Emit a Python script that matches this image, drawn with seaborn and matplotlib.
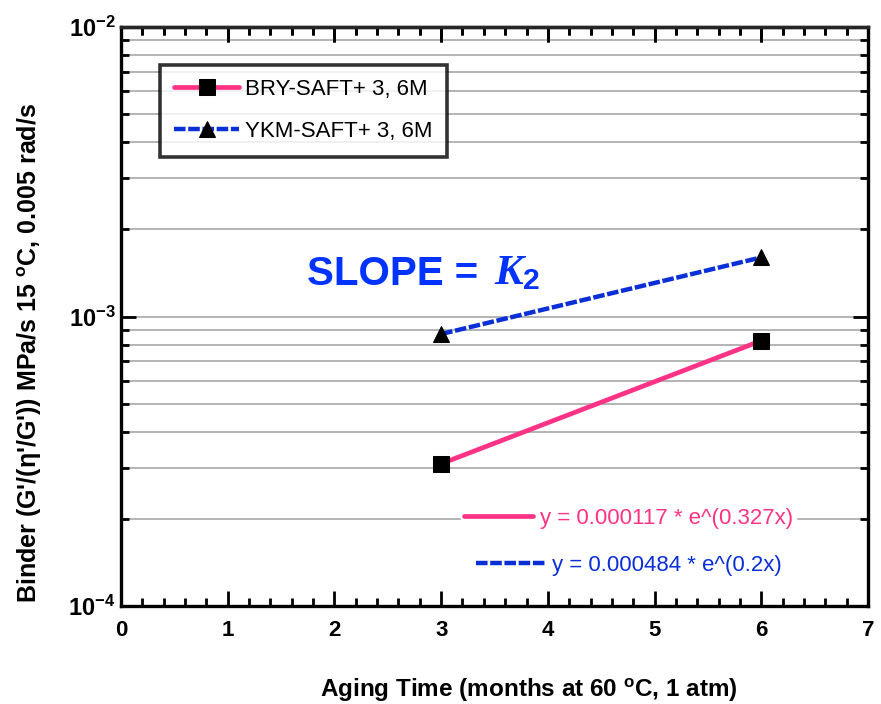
import math
import matplotlib
matplotlib.use("Agg")
import matplotlib.pyplot as plt
import matplotlib.ticker as mticker
from matplotlib.lines import Line2D
import seaborn as sns
import pandas as pd

# Data
aging_months = [3, 6]
bry_values = [3.1e-4, 8.25e-4]
ykm_values = [8.7e-4, 1.6e-3]
series_names = ["BRY-SAFT+ 3, 6M", "YKM-SAFT+ 3, 6M"]
fit_labels = ["y = 0.000117 * e^(0.327x)", "y = 0.000484 * e^(0.2x)"]
x_ticks = [0, 1, 2, 3, 4, 5, 6, 7]

pink = "#FF3385"
blue = "#0A2FD6"
dash_style = (0, (2.6, 0.6))

sns.set_style("white")
rc = plt.rcParams
rc['font.family'] = ['Liberation Sans', 'DejaVu Sans']
rc['text.color'] = 'black'
rc['axes.labelcolor'] = 'black'
rc['xtick.color'] = 'black'
rc['ytick.color'] = 'black'
rc['mathtext.fontset'] = 'custom'
rc['mathtext.bf'] = 'Liberation Sans:bold'
rc['mathtext.rm'] = 'Liberation Sans:bold'
rc['mathtext.it'] = 'Liberation Serif:italic:bold'
rc['mathtext.default'] = 'bf'
rc['axes.unicode_minus'] = False

fig = plt.figure(figsize=(8.81, 7.04), dpi=100)
ax = fig.add_axes([121/881, 1-606/704, (868-121)/881, (606-27)/704])

df_bry = pd.DataFrame({"x": aging_months, "y": bry_values})
df_ykm = pd.DataFrame({"x": aging_months, "y": ykm_values})

sns.lineplot(data=df_bry, x="x", y="y", ax=ax, color=pink, lw=3.4,
             marker="s", markersize=11, markerfacecolor="black",
             markeredgecolor="black", label=series_names[0], zorder=5)
sns.lineplot(data=df_ykm, x="x", y="y", ax=ax, color=blue, lw=3.2,
             linestyle=dash_style, marker="^", markersize=11,
             markerfacecolor="black", markeredgecolor="black",
             label=series_names[1], zorder=5)

ax.set_yscale("log")
ax.set_ylim(1e-4, 1e-2)
ax.set_xlim(0, 7)
ax.set_xticks(x_ticks)
ax.xaxis.set_minor_locator(mticker.MultipleLocator(0.2))
ax.yaxis.set_major_locator(mticker.LogLocator(base=10, numticks=10))
ax.yaxis.set_minor_locator(mticker.LogLocator(base=10, subs=range(2, 10), numticks=20))
ax.yaxis.set_minor_formatter(mticker.NullFormatter())
ax.yaxis.set_major_formatter(mticker.FuncFormatter(
    lambda v, p: r"$\mathbf{10^{%d}}$" % round(math.log10(v))))

ax.grid(True, which="both", axis="y", color="#b4b4b4", lw=1.4)
ax.grid(False, axis="x")
ax.set_axisbelow("line")

for s in ax.spines.values():
    s.set_linewidth(2.4)
    s.set_color("black")

ax.tick_params(axis="both", which="both", direction="in", top=True, right=True,
               bottom=True, left=True, color="black")
ax.tick_params(axis="x", which="major", length=11, width=2, labelsize=16, pad=10)
ax.tick_params(axis="x", which="minor", length=6, width=2)
ax.tick_params(axis="y", which="major", length=11, width=2, labelsize=17, pad=4)
ax.tick_params(axis="y", which="minor", length=6, width=2)
for lab in ax.get_xticklabels():
    lab.set_fontweight("bold")

# top edge tick rows
top = ax.secondary_xaxis("top")
top.set_xticks(x_ticks)
top.xaxis.set_minor_locator(mticker.MultipleLocator(0.2))
top.tick_params(axis="x", which="major", direction="in", length=11, width=2,
                labeltop=False, color="black")
top.tick_params(axis="x", which="minor", direction="in", length=6, width=2,
                color="black")
top.spines["top"].set_linewidth(2.4)
top.set_zorder(10)

ax.set_xlabel(r"Aging Time (months at 60 $^{\mathbf{o}}$C, 1 atm)", fontsize=17.5,
              fontweight="bold")
ax.xaxis.set_label_coords(0.546, -0.145)
ax.xaxis.label.set_va("center")
ax.set_ylabel(r"Binder (G'/($\mathbf{\eta}$'/G')) MPa/s 15 $^{\mathbf{o}}$C, 0.005 rad/s",
              fontsize=18, fontweight="bold")
ax.yaxis.set_label_coords(-0.122, 0.437)
ax.yaxis.label.set_va("center")

leg = ax.legend(loc="upper left", bbox_to_anchor=(0.052, 0.935), fontsize=16,
                frameon=True, fancybox=False, edgecolor="black", handlelength=2.9,
                borderpad=0.65, labelspacing=0.95, handletextpad=0.3,
                borderaxespad=0)
leg.get_frame().set_linewidth(2.6)

# Trendline equation labels
h1 = Line2D([], [], color=pink, lw=3.4)
h2 = Line2D([], [], color=blue, lw=3.2, linestyle=dash_style)
leg2 = ax.legend([h1], [fit_labels[0]], loc="center left", bbox_to_anchor=(0.455, 0.151),
                 fontsize=16, frameon=True, fancybox=False, edgecolor="white",
                 facecolor="white", framealpha=1, handlelength=3.1,
                 labelcolor=[pink], borderpad=0.15, handletextpad=0.3, borderaxespad=0)
ax.add_artist(leg2)
leg3 = ax.legend([h2], [fit_labels[1]], loc="center left", bbox_to_anchor=(0.471, 0.070),
                 fontsize=16, frameon=True, fancybox=False, edgecolor="white",
                 facecolor="white", framealpha=1, handlelength=3.1,
                 labelcolor=[blue], borderpad=0.15, handletextpad=0.3, borderaxespad=0)
ax.add_artist(leg3)
ax.add_artist(leg)

ax.text(0.249, 0.574, "SLOPE =", transform=ax.transAxes, fontsize=29,
        fontweight="bold", color="#0033FF", ha="left", va="center")
ax.text(0.499, 0.574, r"$\mathit{K_2}$", transform=ax.transAxes, fontsize=31,
        color="#0033FF", ha="left", va="center")

fig.savefig("out.png", dpi=100)
